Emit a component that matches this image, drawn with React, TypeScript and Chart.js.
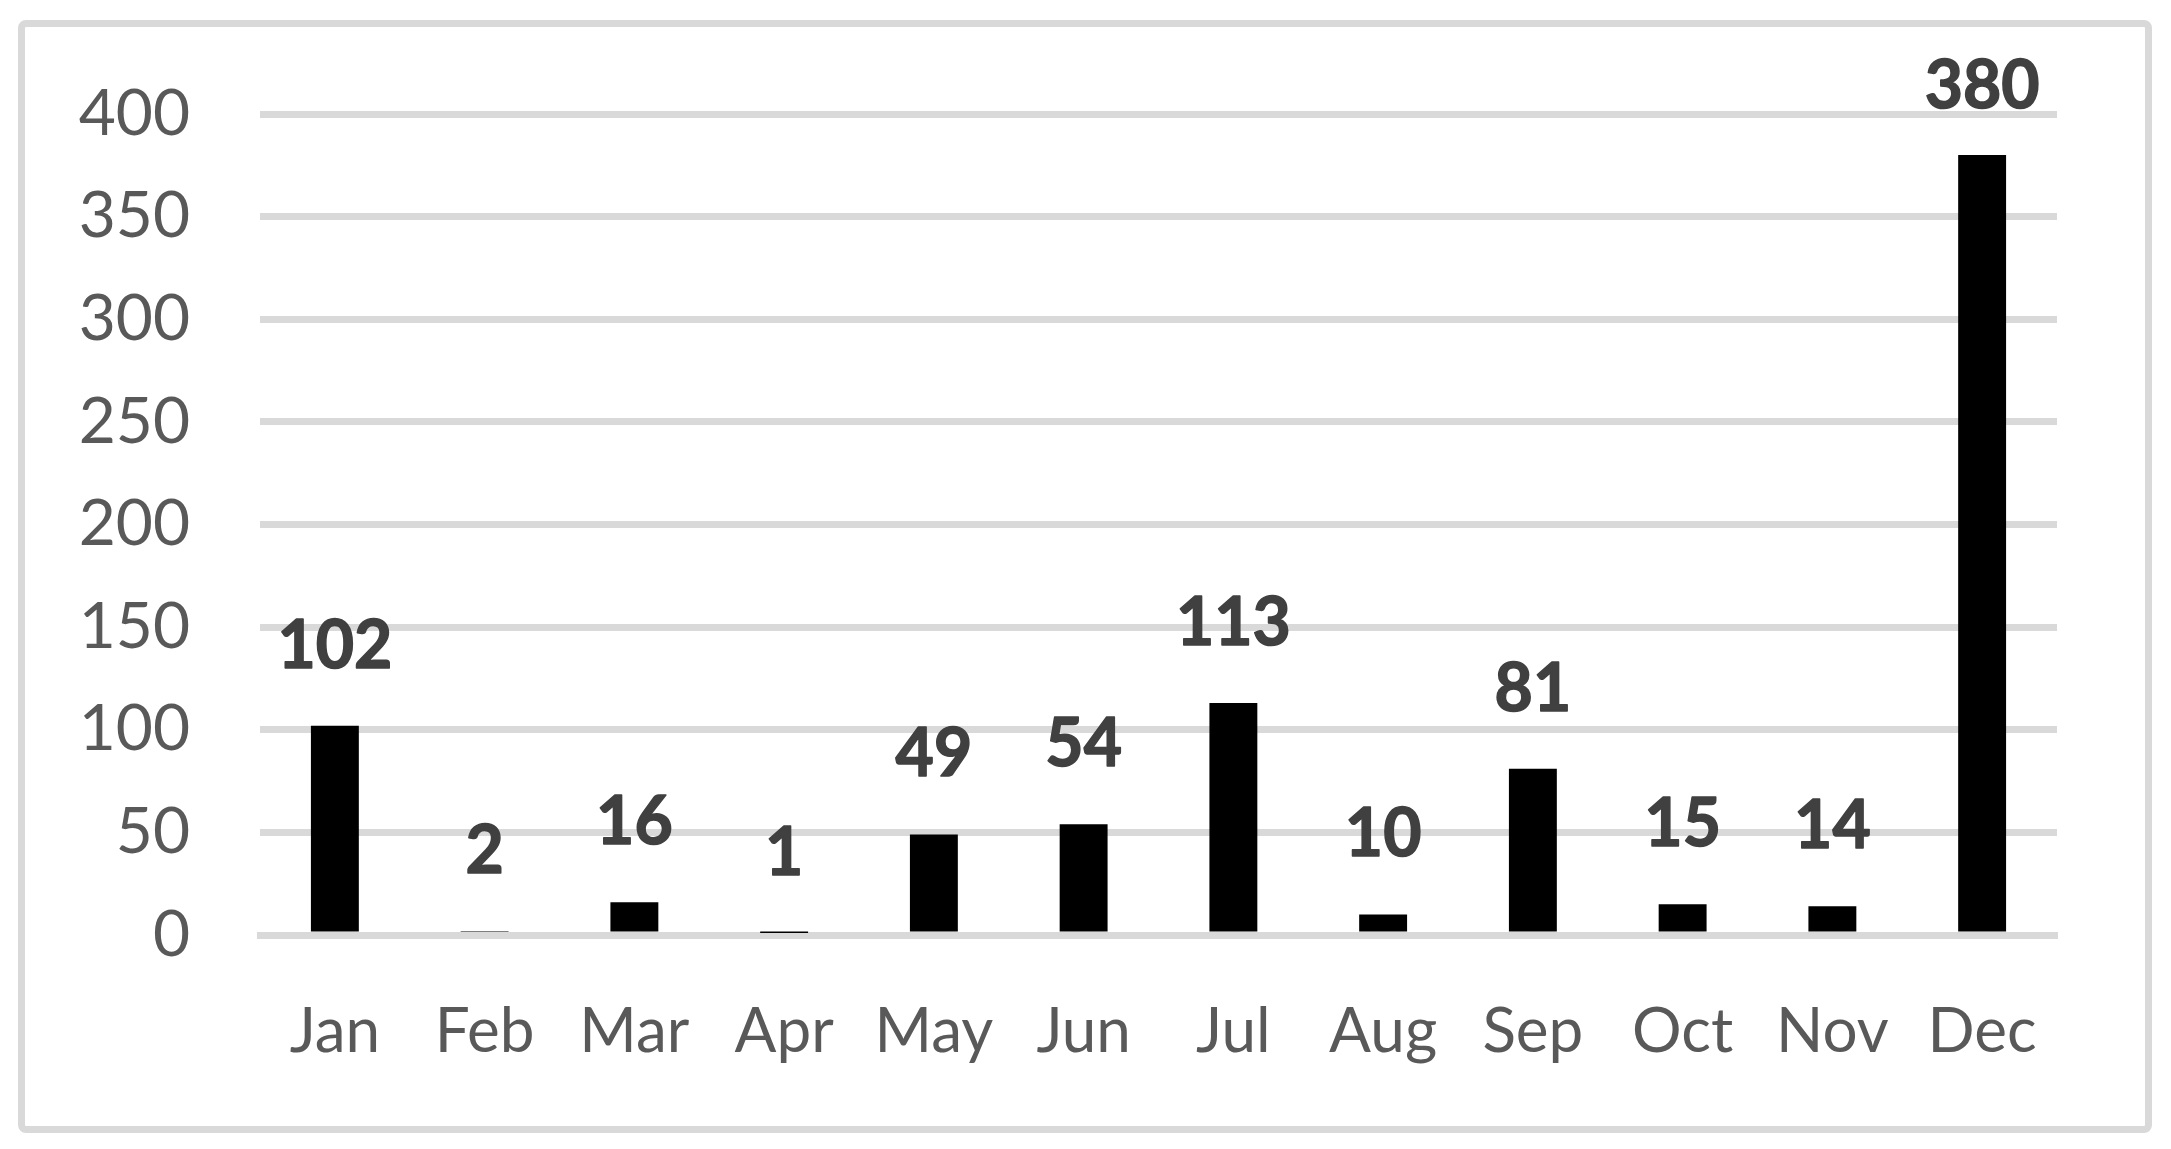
import React, { useEffect, useRef } from "react";
import { Chart, registerables } from "chart.js";

Chart.register(...registerables);

const months = ["Jan", "Feb", "Mar", "Apr", "May", "Jun", "Jul", "Aug", "Sep", "Oct", "Nov", "Dec"];
const counts = [102, 2, 16, 1, 49, 54, 113, 10, 81, 15, 14, 380];
const yMin = 0;
const yMax = 400;
const yStep = 50;

const FONT = "Lato, 'Open Sans', sans-serif";

const dataLabelPlugin = {
  id: "dataLabels",
  afterDatasetsDraw(chart: any) {
    const ctx = chart.ctx;
    const meta = chart.getDatasetMeta(0);
    const area = chart.chartArea;
    ctx.save();
    ctx.font = `bold 66px ${FONT}`;
    ctx.fillStyle = "#404040";
    ctx.strokeStyle = "#404040";
    ctx.lineWidth = 1.5;
    ctx.lineJoin = "round";
    ctx.textAlign = "center";
    ctx.textBaseline = "alphabetic";
    meta.data.forEach((bar: any, i: number) => {
      const v = chart.data.datasets[0].data[i];
      const y = Math.max(bar.y - 58, area.top - 6);
      ctx.fillText(String(v), bar.x, y);
      ctx.strokeText(String(v), bar.x, y);
    });
    ctx.restore();
  },
};

export default function App() {
  const canvasRef = useRef<HTMLCanvasElement | null>(null);

  useEffect(() => {
    const canvas = canvasRef.current;
    if (!canvas) return;
    const chart = new Chart(canvas, {
      type: "bar",
      data: {
        labels: months,
        datasets: [
          {
            data: counts,
            backgroundColor: "#000000",
            borderWidth: 0,
            categoryPercentage: 1,
            barPercentage: 0.32,
          },
        ],
      },
      options: {
        responsive: false,
        animation: false,
        devicePixelRatio: 1,
        layout: { padding: { left: 0, right: 114, top: 114, bottom: 0 } },
        plugins: {
          legend: { display: false },
          tooltip: { enabled: false },
          title: { display: false },
        },
        scales: {
          x: {
            z: 1,
            grid: { display: false, drawTicks: false },
            border: { display: true, color: "#d9d9d9", width: 7 },
            ticks: {
              color: "#595959",
              font: { family: FONT, size: 62 },
              padding: 60,
              maxRotation: 0,
              autoSkip: false,
            },
            afterFit(scale: any) {
              scale.height = 214;
            },
          },
          y: {
            min: yMin,
            max: yMax,
            grid: { color: "#d9d9d9", lineWidth: 7, drawTicks: false },
            border: { display: false },
            ticks: {
              stepSize: yStep,
              color: "#595959",
              font: { family: FONT, size: 64 },
              padding: 70,
            },
            afterFit(scale: any) {
              scale.width = 260;
            },
          },
        },
      },
      plugins: [dataLabelPlugin],
    } as any);
    return () => chart.destroy();
  }, []);

  return (
    <div style={{ position: "fixed", left: 0, top: 0, width: 2171, height: 1149, background: "#ffffff" }}>
      <canvas
        ref={canvasRef}
        width={2171}
        height={1149}
        style={{ position: "absolute", left: 0, top: 0, width: 2171, height: 1149 }}
      />
      <div
        style={{
          position: "absolute",
          left: 18,
          top: 20,
          width: 2134,
          height: 1113,
          border: "7px solid #d9d9d9",
          borderRadius: 8,
          boxSizing: "border-box",
          pointerEvents: "none",
        }}
      />
    </div>
  );
}
